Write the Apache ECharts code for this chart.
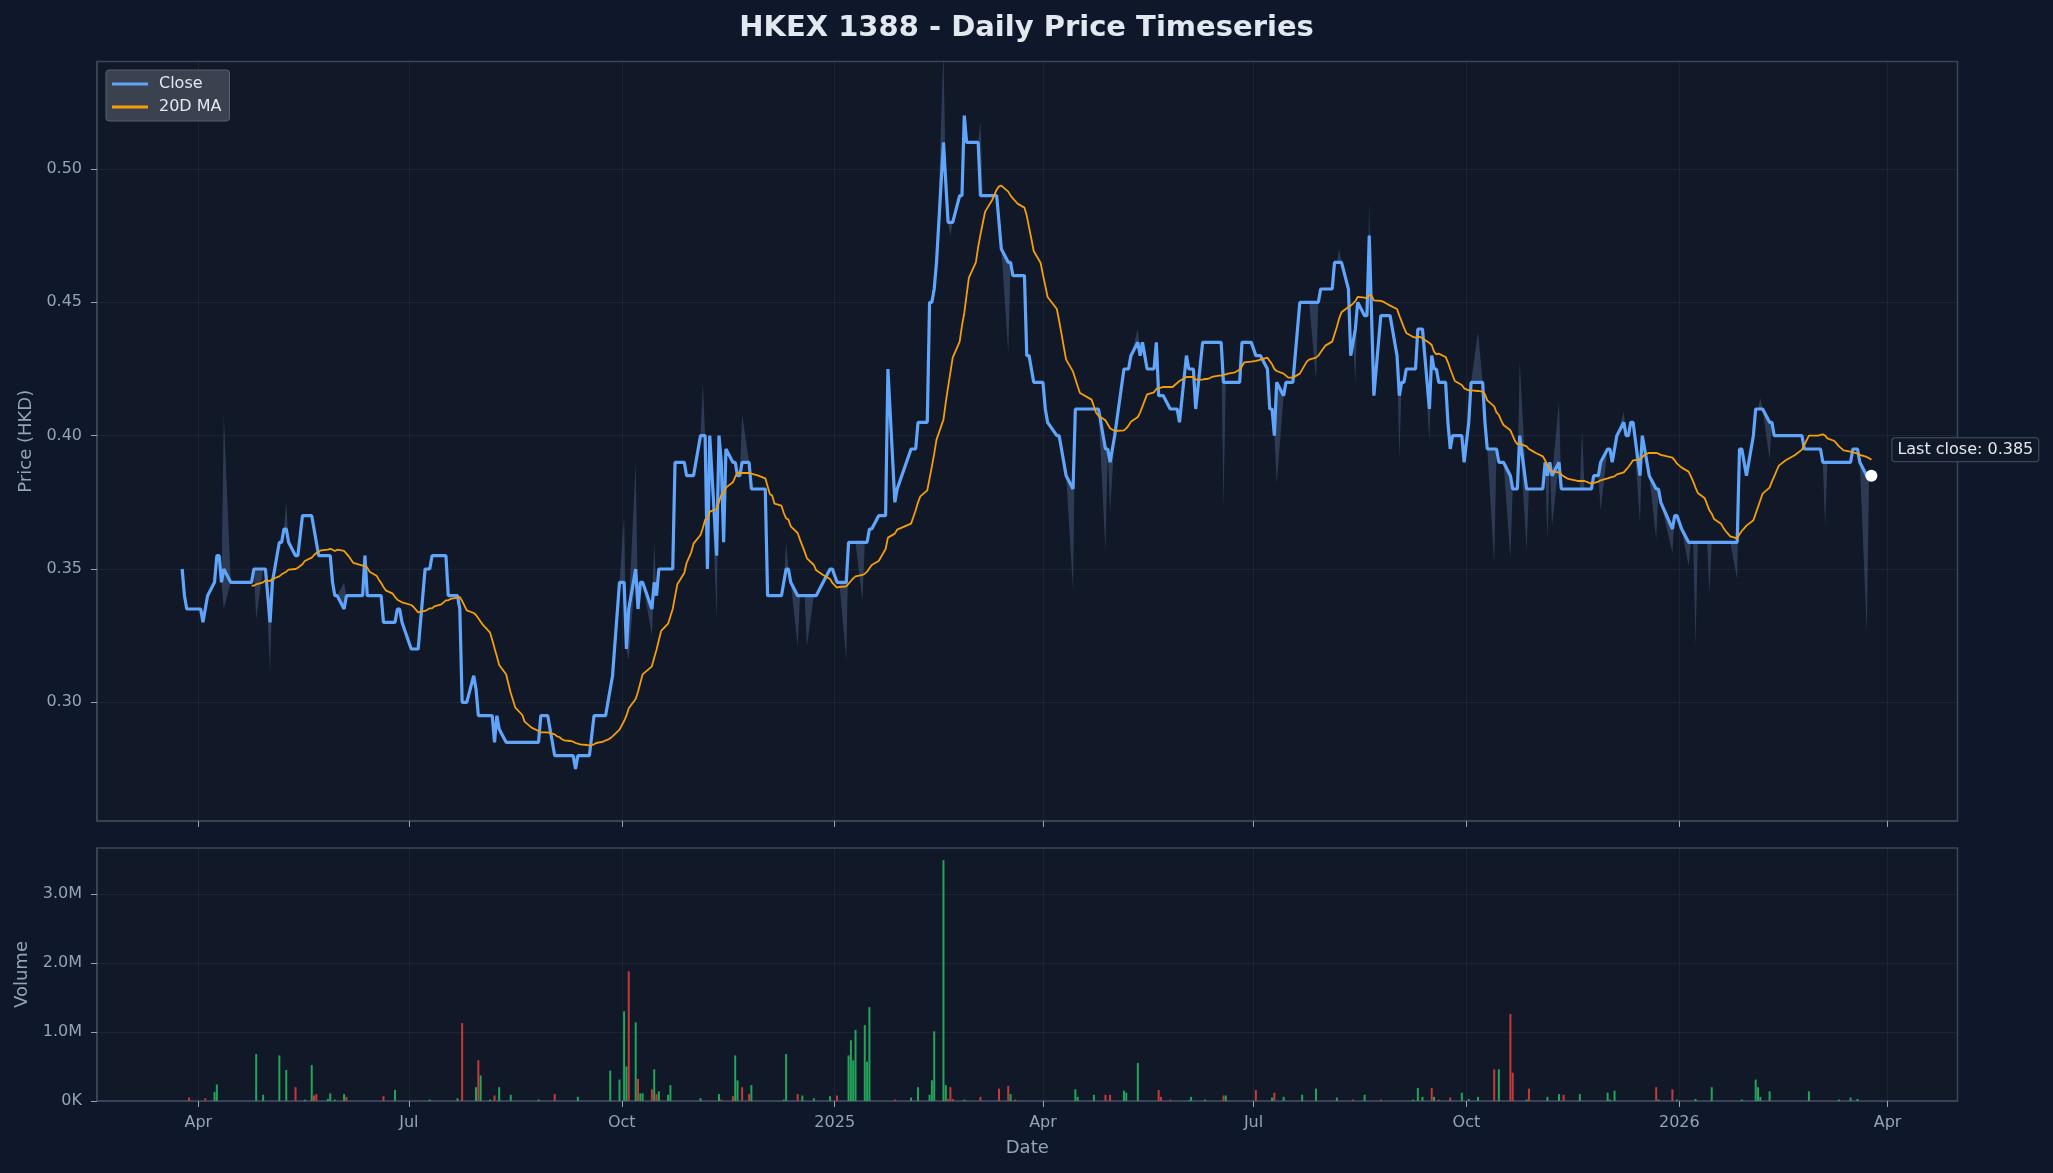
<!DOCTYPE html>
<html>
<head>
<meta charset="utf-8">
<script src="https://cdn.jsdelivr.net/npm/echarts@6/dist/echarts.min.js"></script>
<style>
html,body{margin:0;padding:0;background:#0f172a;}
#chart{width:2053px;height:1173px;}
</style>
</head>
<body>
<div id="chart"></div>
<script>
// ---------------- DATA ----------------
// Daily closes (HKD), one per HKEX trading day starting Mon 2024-03-25 (rows = calendar weeks)
const closePrices = [
0.350,0.340,0.335,0.335,
0.335,0.330,0.340,
0.345,0.355,0.355,0.345,0.350,
0.345,0.345,0.345,0.345,0.345,
0.345,0.345,0.345,0.350,0.350,
0.350,0.350,0.330,0.345,
0.360,0.360,0.365,0.365,0.360,
0.355,0.355,0.370,0.370,
0.370,0.365,0.360,0.355,0.355,
0.355,0.355,0.345,0.340,0.340,
0.335,0.340,0.340,0.340,0.340,
0.340,0.355,0.340,0.340,
0.340,0.340,0.340,0.330,0.330,
0.330,0.330,0.335,0.335,0.330,
0.320,0.320,0.320,0.320,
0.350,0.350,0.350,0.355,0.355,
0.355,0.355,0.355,0.340,0.340,
0.340,0.335,0.300,0.300,0.300,
0.310,0.305,0.295,0.295,0.295,
0.295,0.295,0.285,0.295,0.290,
0.285,0.285,0.285,0.285,0.285,
0.285,0.285,0.285,0.285,0.285,
0.285,0.295,0.295,0.295,0.295,
0.280,0.280,0.280,0.280,0.280,
0.280,0.280,0.275,0.280,0.280,
0.280,0.280,0.295,0.295,
0.295,0.295,0.300,0.305,0.310,
0.345,0.345,0.320,0.335,
0.350,0.335,0.345,0.345,
0.335,0.345,0.340,0.350,0.350,
0.350,0.350,0.350,0.390,0.390,
0.390,0.385,0.385,0.385,0.385,
0.400,0.400,0.400,0.350,0.400,
0.355,0.400,0.390,0.360,0.395,
0.390,0.390,0.385,0.385,0.390,
0.390,0.380,0.380,0.380,0.380,
0.380,0.340,0.340,0.340,0.340,
0.340,0.345,0.350,0.350,0.345,
0.340,0.340,0.340,0.340,0.340,
0.340,0.340,0.345,
0.350,0.350,0.345,0.345,
0.345,0.360,0.360,0.360,0.360,
0.360,0.360,0.360,0.365,0.365,
0.370,0.370,0.370,0.370,0.425,
0.375,0.380,
0.395,0.395,0.395,0.405,0.405,
0.405,0.450,0.450,0.455,0.465,
0.510,0.495,0.480,0.480,0.480,
0.490,0.490,0.520,0.510,0.510,
0.510,0.510,0.490,0.490,0.490,
0.490,0.490,0.490,0.480,0.470,
0.465,0.465,0.460,0.460,0.460,
0.460,0.430,0.430,0.425,0.420,
0.420,0.420,0.410,0.405,
0.400,0.400,0.395,0.390,0.385,
0.380,0.410,0.410,0.410,
0.410,0.410,0.410,0.410,
0.395,0.395,0.390,0.400,
0.425,0.425,0.425,0.430,
0.435,0.430,0.435,0.430,0.425,
0.425,0.435,0.415,0.415,0.415,
0.410,0.410,0.410,0.410,0.405,
0.430,0.425,0.425,0.425,0.410,
0.435,0.435,0.435,0.435,0.435,
0.435,0.435,0.420,0.420,0.420,
0.420,0.420,0.420,0.435,0.435,
0.435,0.430,0.430,0.430,
0.425,0.410,0.410,0.400,0.420,
0.415,0.420,0.420,0.420,0.420,
0.450,0.450,0.450,0.450,0.450,
0.450,0.450,0.455,0.455,0.455,
0.455,0.465,0.465,0.465,0.465,
0.455,0.430,0.435,0.440,0.450,
0.445,0.445,0.475,0.445,0.415,
0.445,0.445,0.445,0.445,0.445,
0.430,0.415,0.420,0.420,0.425,
0.425,0.425,0.440,0.440,0.440,
0.410,0.430,0.425,0.425,0.420,
0.420,0.405,0.395,0.400,0.400,
0.400,0.390,0.405,0.420,
0.420,0.420,0.405,0.395,
0.395,0.395,0.390,0.390,0.390,
0.385,0.380,0.380,0.380,0.400,
0.380,0.380,0.380,0.380,
0.380,0.390,0.385,0.390,0.385,
0.390,0.380,0.380,0.380,0.380,
0.380,0.380,0.380,0.380,0.380,
0.380,0.385,0.385,0.385,0.390,
0.395,0.395,0.390,0.395,0.400,
0.405,0.400,0.400,0.405,0.405,
0.385,0.400,0.395,0.390,0.385,
0.380,0.380,0.375,
0.365,0.370,0.370,0.365,
0.360,0.360,0.360,0.360,0.360,
0.360,0.360,0.360,0.360,0.360,
0.360,0.360,0.360,0.360,0.360,
0.360,0.395,0.395,0.390,0.385,
0.400,0.410,0.410,0.410,0.410,
0.405,0.405,0.400,0.400,0.400,
0.400,0.400,
0.400,0.395,0.395,0.395,0.395,
0.395,0.395,0.390,0.390,0.390,
0.390,0.390,0.390,0.390,0.390,
0.390,0.395,0.395,0.395,0.390,
0.385,0.385,0.385
];
const firstTradingDay = '2024-03-25';
// HKEX weekday holidays in the period (no trading)
const marketHolidays = ['2024-03-29','2024-04-01','2024-04-04','2024-05-01','2024-05-15','2024-06-10','2024-07-01','2024-09-18','2024-10-01','2024-10-11','2024-12-25','2024-12-26','2025-01-01','2025-01-29','2025-01-30','2025-01-31','2025-04-04','2025-04-18','2025-04-21','2025-05-01','2025-05-05','2025-07-01','2025-10-01','2025-10-07','2025-10-29','2025-12-25','2025-12-26','2026-01-01','2026-02-17','2026-02-18','2026-02-19'];

// Intraday extremes that differ from the close
const highDates = ['2024-04-12','2024-05-09','2024-06-03','2024-10-02','2024-10-07','2024-10-15','2024-11-05','2024-11-22','2024-12-11','2025-02-17','2025-03-05','2025-05-12','2025-08-07','2025-08-20','2025-10-06','2025-10-24','2025-11-10','2025-11-20','2025-12-08','2026-02-05'];
const highValues = [0.408,0.375,0.345,0.370,0.390,0.360,0.420,0.408,0.360,0.545,0.518,0.440,0.470,0.488,0.439,0.428,0.413,0.403,0.409,0.414];
const lowDates = ['2024-04-12','2024-04-26','2024-05-02','2024-10-04','2024-10-14','2024-11-11','2024-12-16','2024-12-20','2025-01-06','2025-01-13','2025-02-20','2025-03-17','2025-04-14','2025-04-28','2025-04-30','2025-06-18','2025-07-11','2025-07-28','2025-08-14','2025-09-02','2025-09-15','2025-10-13','2025-10-20','2025-10-27','2025-11-05','2025-11-07','2025-11-28','2025-12-15','2025-12-22','2025-12-29','2026-01-05','2026-01-08','2026-01-14','2026-01-26','2026-02-09','2026-03-05','2026-03-23'];
const lowValues = [0.335,0.331,0.311,0.316,0.325,0.331,0.321,0.321,0.316,0.338,0.475,0.431,0.342,0.357,0.371,0.373,0.382,0.421,0.420,0.391,0.398,0.352,0.354,0.357,0.361,0.366,0.372,0.367,0.361,0.356,0.351,0.321,0.341,0.346,0.391,0.366,0.326];

// Volume (non-zero days): date, shares, up day (1) / down day (0)
const volDates = ['2024-03-28','2024-04-04','2024-04-08','2024-04-09','2024-04-26','2024-04-29','2024-05-06','2024-05-09','2024-05-13','2024-05-17','2024-05-20','2024-05-21','2024-05-22','2024-05-27','2024-05-28','2024-05-30','2024-06-03','2024-06-04','2024-06-20','2024-06-25','2024-07-10','2024-07-22','2024-07-24','2024-07-30','2024-07-31','2024-08-01','2024-08-05','2024-08-07','2024-08-09','2024-08-14','2024-08-26','2024-09-02','2024-09-12','2024-09-26','2024-09-30','2024-10-02','2024-10-03','2024-10-04','2024-10-07','2024-10-08','2024-10-09','2024-10-10','2024-10-14','2024-10-15','2024-10-16','2024-10-17','2024-10-21','2024-10-22','2024-11-04','2024-11-12','2024-11-13','2024-11-18','2024-11-19','2024-11-20','2024-11-22','2024-11-25','2024-11-26','2024-12-10','2024-12-11','2024-12-16','2024-12-18','2024-12-23','2024-12-30','2025-01-02','2025-01-07','2025-01-08','2025-01-09','2025-01-10','2025-01-14','2025-01-15','2025-01-16','2025-01-27','2025-02-03','2025-02-06','2025-02-11','2025-02-12','2025-02-13','2025-02-17','2025-02-18','2025-02-19','2025-02-20','2025-02-21','2025-02-26','2025-03-05','2025-03-13','2025-03-17','2025-03-18','2025-03-20','2025-04-15','2025-04-16','2025-04-23','2025-04-28','2025-04-30','2025-05-06','2025-05-07','2025-05-12','2025-05-21','2025-05-22','2025-05-26','2025-06-03','2025-06-04','2025-06-10','2025-06-18','2025-06-19','2025-07-02','2025-07-09','2025-07-10','2025-07-14','2025-07-22','2025-07-28','2025-08-06','2025-08-13','2025-08-18','2025-08-25','2025-09-08','2025-09-10','2025-09-12','2025-09-16','2025-09-17','2025-09-19','2025-09-24','2025-09-29','2025-10-02','2025-10-06','2025-10-13','2025-10-15','2025-10-20','2025-10-21','2025-10-27','2025-10-28','2025-11-05','2025-11-10','2025-11-12','2025-11-19','2025-12-01','2025-12-02','2025-12-04','2025-12-22','2025-12-23','2025-12-29','2025-12-31','2026-01-08','2026-01-15','2026-01-28','2026-02-03','2026-02-04','2026-02-05','2026-02-09','2026-02-26','2026-03-11','2026-03-16','2026-03-19'];
const volValues = [50000,40000,130000,240000,680000,90000,660000,450000,200000,20000,520000,80000,100000,30000,110000,20000,100000,60000,70000,160000,20000,40000,1130000,200000,590000,370000,20000,80000,200000,90000,20000,100000,60000,440000,310000,1300000,500000,1880000,1140000,320000,110000,110000,170000,460000,100000,140000,90000,230000,40000,100000,20000,70000,660000,300000,200000,100000,230000,20000,680000,100000,80000,40000,70000,80000,660000,880000,590000,1030000,1100000,570000,1360000,20000,50000,200000,90000,300000,1010000,3490000,230000,30000,200000,30000,20000,60000,180000,220000,100000,20000,170000,60000,90000,90000,90000,150000,120000,550000,160000,60000,20000,10000,60000,20000,80000,80000,160000,50000,120000,60000,90000,180000,50000,20000,90000,20000,20000,190000,60000,190000,60000,20000,50000,120000,30000,60000,460000,460000,1260000,410000,20000,180000,60000,100000,90000,100000,120000,20000,150000,200000,20000,170000,20000,30000,200000,20000,310000,200000,60000,140000,140000,20000,50000,30000];
const volUp = [0,0,1,1,1,1,1,1,0,1,1,0,0,1,1,1,1,0,0,1,1,1,0,1,0,1,1,0,1,1,1,0,1,1,1,1,1,0,1,0,1,1,0,1,0,1,1,1,1,1,0,0,1,1,0,0,1,1,1,0,1,1,1,0,1,1,1,1,1,1,1,0,1,1,1,1,1,1,1,0,0,0,1,0,0,0,1,0,1,1,1,0,0,1,1,1,0,0,0,1,1,1,0,1,0,1,0,1,1,1,1,0,1,0,1,1,1,0,1,0,0,1,1,1,0,1,0,0,1,0,1,1,0,1,1,1,1,0,1,0,1,1,1,1,1,1,1,1,1,1,1,1];

// Axis ticks
const xTickDates = ['2024-04-01','2024-07-01','2024-10-01','2025-01-01','2025-04-01','2025-07-01','2025-10-01','2026-01-01','2026-04-01'];
const xTickLabels = ['Apr','Jul','Oct','2025','Apr','Jul','Oct','2026','Apr'];
const priceTickValues = [0.30,0.35,0.40,0.45,0.50];
const priceTickLabels = ['0.30','0.35','0.40','0.45','0.50'];
const volTickValues = [0,1000000,2000000,3000000];
const volTickLabels = ['0K','1.0M','2.0M','3.0M'];

// ---------------- BUILD ----------------
function parseDay(s){const p=s.split('-').map(Number);return new Date(p[0],p[1]-1,p[2]);}
function dayKey(d){return d.getFullYear()+'-'+String(d.getMonth()+1).padStart(2,'0')+'-'+String(d.getDate()).padStart(2,'0');}

const tradeTimes=[], tradeKeys=[];
(function(){let d=parseDay(firstTradingDay);while(tradeTimes.length<closePrices.length){const w=d.getDay();const k=dayKey(d);if(w!==0&&w!==6&&marketHolidays.indexOf(k)<0){tradeTimes.push(d.getTime());tradeKeys.push(k);}d=new Date(d.getFullYear(),d.getMonth(),d.getDate()+1);}})();

const highs=closePrices.slice(), lows=closePrices.slice();
highDates.forEach((k,i)=>{const j=tradeKeys.indexOf(k);if(j>=0)highs[j]=Math.max(highs[j],highValues[i]);});
lowDates.forEach((k,i)=>{const j=tradeKeys.indexOf(k);if(j>=0)lows[j]=Math.min(lows[j],lowValues[i]);});

const maWindow=20;
const maData=tradeTimes.map((t,i)=>{if(i<maWindow-1)return [t,null];let s=0;for(let k=i-maWindow+1;k<=i;k++)s+=closePrices[k];return [t,s/maWindow];});

const xTickTimes=xTickDates.map(s=>parseDay(s).getTime());
const xMin=new Date(2024,1,17,5).getTime();
const xMax=new Date(2026,4,1,5).getTime();
const lastIdx=closePrices.length-1;

const FONT='DejaVu Sans';
const TICKC='#94a3b8';
const GRIDC='rgba(148,163,184,0.09)';
const BORDER='#3b4658';
const BANDC='rgba(96,125,170,0.34)';
function lookup(vals,labels,v){for(let i=0;i<vals.length;i++){if(Math.abs(vals[i]-v)<1e-6*Math.max(1,Math.abs(v)))return labels[i];}return '';}

const chart=echarts.init(document.getElementById('chart'),null,{renderer:'canvas'});
const xAxisBase={type:'value',min:xMin,max:xMax,scale:true,
  axisLine:{show:true,lineStyle:{color:BORDER,width:1.5}},
  axisTick:{show:true,customValues:xTickTimes,length:6,lineStyle:{color:TICKC,width:1}},
  splitLine:{show:true,lineStyle:{color:GRIDC,width:1}}};
const option={
  backgroundColor:'#0f172a',
  animation:false,
  title:{text:'HKEX 1388 - Daily Price Timeseries',left:'center',top:14,padding:0,
    textStyle:{color:'#e2e8f0',fontSize:29,fontWeight:'bold',fontFamily:FONT}},
  legend:{data:['Close','20D MA'],left:106,top:70,orient:'vertical',icon:'rect',
    backgroundColor:'#3a4250',borderColor:'#596170',borderWidth:1,borderRadius:3,
    padding:[6,8,6,6],itemGap:7,itemWidth:36,itemHeight:3,
    textStyle:{color:'#e2e8f0',fontSize:16,fontFamily:FONT,padding:[0,0,0,6]}},
  grid:[
    {left:97,top:61.5,width:1860.5,height:759.5,show:true,backgroundColor:'#111827',borderColor:BORDER,borderWidth:1.5},
    {left:97,top:848,width:1860.5,height:253,show:true,backgroundColor:'#111827',borderColor:BORDER,borderWidth:1.5}
  ],
  xAxis:[
    Object.assign({},xAxisBase,{gridIndex:0,axisLabel:{show:false,customValues:xTickTimes}}),
    Object.assign({},xAxisBase,{gridIndex:1,
      axisLabel:{show:true,customValues:xTickTimes,margin:14,color:TICKC,fontSize:16,fontFamily:FONT,
        formatter:v=>lookup(xTickTimes,xTickLabels,v)},
      name:'Date',nameLocation:'middle',nameGap:38,nameTextStyle:{color:TICKC,fontSize:18,fontFamily:FONT}})
  ],
  yAxis:[
    {type:'value',gridIndex:0,min:0.2555,max:0.5403,
     axisLine:{show:true,lineStyle:{color:BORDER,width:1.5}},
     axisTick:{show:true,customValues:priceTickValues,length:6,lineStyle:{color:TICKC}},
     axisLabel:{customValues:priceTickValues,margin:15,color:TICKC,fontSize:16,fontFamily:FONT,
       formatter:v=>lookup(priceTickValues,priceTickLabels,v)},
     splitLine:{show:true,lineStyle:{color:GRIDC,width:1}},
     name:'Price (HKD)',nameLocation:'middle',nameGap:62,nameTextStyle:{color:TICKC,fontSize:18,fontFamily:FONT}},
    {type:'value',gridIndex:1,min:0,max:3667000,
     axisLine:{show:true,lineStyle:{color:BORDER,width:1.5}},
     axisTick:{show:true,customValues:volTickValues,length:6,lineStyle:{color:TICKC}},
     axisLabel:{customValues:volTickValues,margin:15,color:TICKC,fontSize:16,fontFamily:FONT,
       formatter:v=>lookup(volTickValues,volTickLabels,v)},
     splitLine:{show:true,lineStyle:{color:GRIDC,width:1}},
     name:'Volume',nameLocation:'middle',nameGap:66,nameTextStyle:{color:TICKC,fontSize:18,fontFamily:FONT}}
  ],
  series:[
    {name:'High-Low',type:'custom',xAxisIndex:0,yAxisIndex:0,silent:true,z:1,clip:true,
     data:[[tradeTimes[0],closePrices[0]]],
     renderItem:function(params,api){
       const pts=[];
       for(let i=0;i<tradeTimes.length;i++)pts.push(api.coord([tradeTimes[i],highs[i]]));
       for(let i=tradeTimes.length-1;i>=0;i--)pts.push(api.coord([tradeTimes[i],lows[i]]));
       return {type:'polygon',shape:{points:pts},style:{fill:BANDC,stroke:null}};
     }},
    {name:'Close',type:'line',xAxisIndex:0,yAxisIndex:0,symbol:'none',z:3,color:'#60a5fa',
     lineStyle:{color:'#60a5fa',width:3.2},data:tradeTimes.map((t,i)=>[t,closePrices[i]])},
    {name:'20D MA',type:'line',xAxisIndex:0,yAxisIndex:0,symbol:'none',z:4,color:'#f59e0b',
     lineStyle:{color:'#f59e0b',width:1.8},connectNulls:false,data:maData},
    {name:'last',type:'scatter',xAxisIndex:0,yAxisIndex:0,z:6,symbolSize:12,
     itemStyle:{color:'#ffffff',opacity:1},
     label:{show:true,position:'right',offset:[10,-26],
       formatter:'Last close: '+closePrices[lastIdx].toFixed(3),
       color:'#e2e8f0',fontSize:16,fontFamily:FONT,backgroundColor:'#111827',
       borderColor:'#465263',borderWidth:1,borderRadius:3,padding:[4,5,3,5]},
     data:[[tradeTimes[lastIdx],closePrices[lastIdx]]]},
    {name:'Volume',type:'bar',xAxisIndex:1,yAxisIndex:1,barWidth:2,z:2,
     data:volDates.map((k,i)=>({value:[parseDay(k).getTime(),volValues[i]],
       itemStyle:{color:volUp[i]?'#22a559':'#c23b3b'}}))}
  ]
};
chart.setOption(option);
</script>
</body>
</html>
